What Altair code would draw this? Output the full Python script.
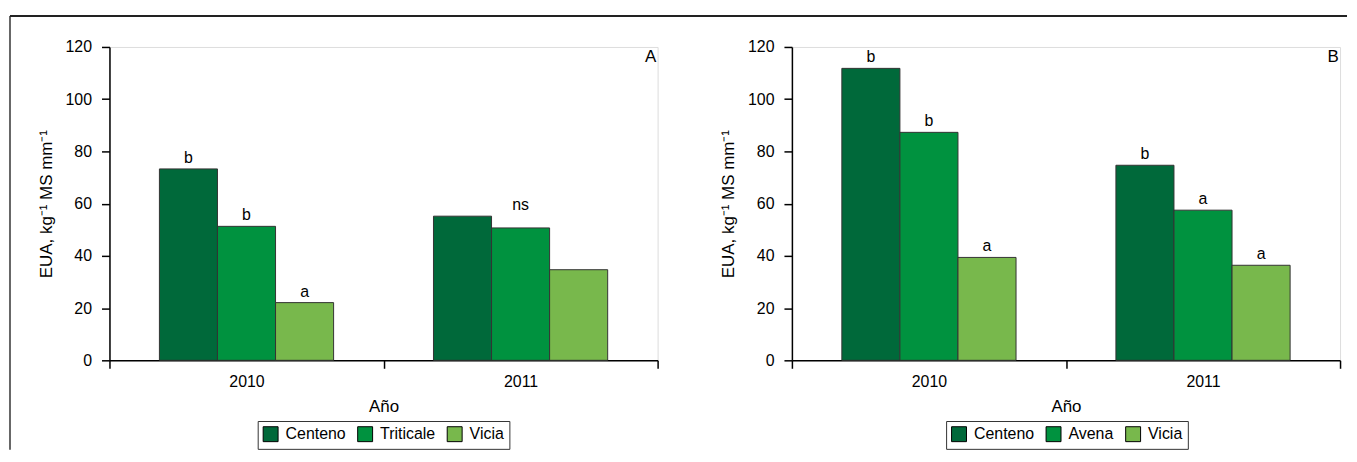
import altair as alt
import pandas as pd

years = ["2010", "2011"]
crops_a = ["Centeno", "Triticale", "Vicia"]
crops_b = ["Centeno", "Avena", "Vicia"]
a_2010 = [73.3, 51.3, 22.1]
a_2011 = [55.2, 50.7, 34.7]
b_2010 = [111.8, 87.3, 39.4]
b_2011 = [74.7, 57.5, 36.4]
a_letters_2010 = ["b", "b", "a"]
a_letters_2011 = ["", "ns", ""]
b_letters_2010 = ["b", "b", "a"]
b_letters_2011 = ["b", "a", "a"]
colors = ["#00693a", "#00923f", "#78b84c"]
y_ticks = [0, 20, 40, 60, 80, 100, 120]

FONT = "Liberation Sans"
W, H = 551, 315
YTITLE = "EUA, kg⁻¹ MS mm⁻¹"


def build_df(crops, v10, v11, l10, l11):
    rows = []
    for year, vals, lets in (("2010", v10, l10), ("2011", v11, l11)):
        top = max(vals)
        for c, v, l in zip(crops, vals, lets):
            rows.append({"year": year, "crop": c, "value": v, "letter": l,
                         "label_y": top if l == "ns" else v})
    return pd.DataFrame(rows)


def panel(df, crops, tag, legend_x, top_x1, top_x2):
    x = alt.X("year:N", sort=years, title="Año",
              scale=alt.Scale(paddingInner=0, paddingOuter=0),
              axis=alt.Axis(labelAngle=0, tickBand="extent", tickSize=8,
                            labelPadding=5, titlePadding=9,
                            domainColor="black", tickColor="black",
                            domainWidth=1.5, tickWidth=1.5,
                            labelFontSize=16, titleFontSize=17,
                            labelColor="black", titleColor="black",
                            titleFontWeight="normal", labelFont=FONT, titleFont=FONT))
    xo = alt.XOffset("crop:N", sort=crops,
                     scale=alt.Scale(paddingInner=0, paddingOuter=0.86))
    yaxis = alt.Axis(values=y_ticks, grid=False, tickSize=8, labelPadding=10,
                     titlePadding=10, domainColor="black", tickColor="black",
                     domainWidth=1.5, tickWidth=1.5, labelFontSize=16,
                     titleFontSize=17, labelColor="black", titleColor="black",
                     titleFontWeight="normal", labelFont=FONT, titleFont=FONT)
    yscale = alt.Scale(domain=[0, 120], nice=False)
    color = alt.Color("crop:N", sort=crops,
                      scale=alt.Scale(domain=crops, range=colors),
                      legend=alt.Legend(title=None, orient="none",
                                        legendX=legend_x, legendY=376,
                                        direction="horizontal",
                                        symbolType="square", symbolSize=225,
                                        symbolStrokeColor="black",
                                        symbolStrokeWidth=1, symbolOpacity=1,
                                        labelFontSize=16, labelFont=FONT,
                                        labelColor="black",
                                        strokeColor="#333", padding=5,
                                        columnPadding=9, labelOffset=7))
    bars = alt.Chart(df).mark_bar(stroke="#333", strokeWidth=1).encode(
        x=x, xOffset=xo,
        y=alt.Y("value:Q", scale=yscale, title=YTITLE, axis=yaxis),
        color=color)
    text = alt.Chart(df).mark_text(baseline="bottom", dy=-3, fontSize=16,
                                   font=FONT, color="black").encode(
        x=x, xOffset=xo,
        y=alt.Y("label_y:Q", scale=yscale, title=YTITLE, axis=yaxis),
        text="letter:N")
    one = alt.Data(values=[{"k": 1}])
    tag_text = alt.Chart(one).mark_text(fontSize=17, font=FONT, color="black").encode(
        x=alt.value(544), y=alt.value(10), text=alt.value(tag))
    top_line = alt.Chart(one).mark_rule(color="#222", strokeWidth=2).encode(
        x=alt.value(top_x1), x2=alt.value(top_x2), y=alt.value(-31))
    layers = [top_line, bars, text, tag_text]
    if tag == "A":
        left_line = alt.Chart(one).mark_rule(color="#666", strokeWidth=2).encode(
            x=alt.value(-100), y=alt.value(-31), y2=alt.value(405))
        layers.insert(0, left_line)
    return alt.layer(*layers).properties(width=W, height=H)


df_a = build_df(crops_a, a_2010, a_2011, a_letters_2010, a_letters_2011)
df_b = build_df(crops_b, b_2010, b_2011, b_letters_2010, b_letters_2011)

pa = panel(df_a, crops_a, "A", 149, -100, 582)
pb = panel(df_b, crops_b, "B", 155, -106, 558)

chart = alt.hconcat(pa, pb, spacing=-6).resolve_scale(
    color="independent", x="independent", y="independent", xOffset="independent"
).properties(padding={"left": 0, "top": 5, "right": 0, "bottom": 0}).configure_view(
    stroke=None
).configure(font=FONT)

chart.save("out.html", embed_options={"renderer": "svg", "actions": False})
